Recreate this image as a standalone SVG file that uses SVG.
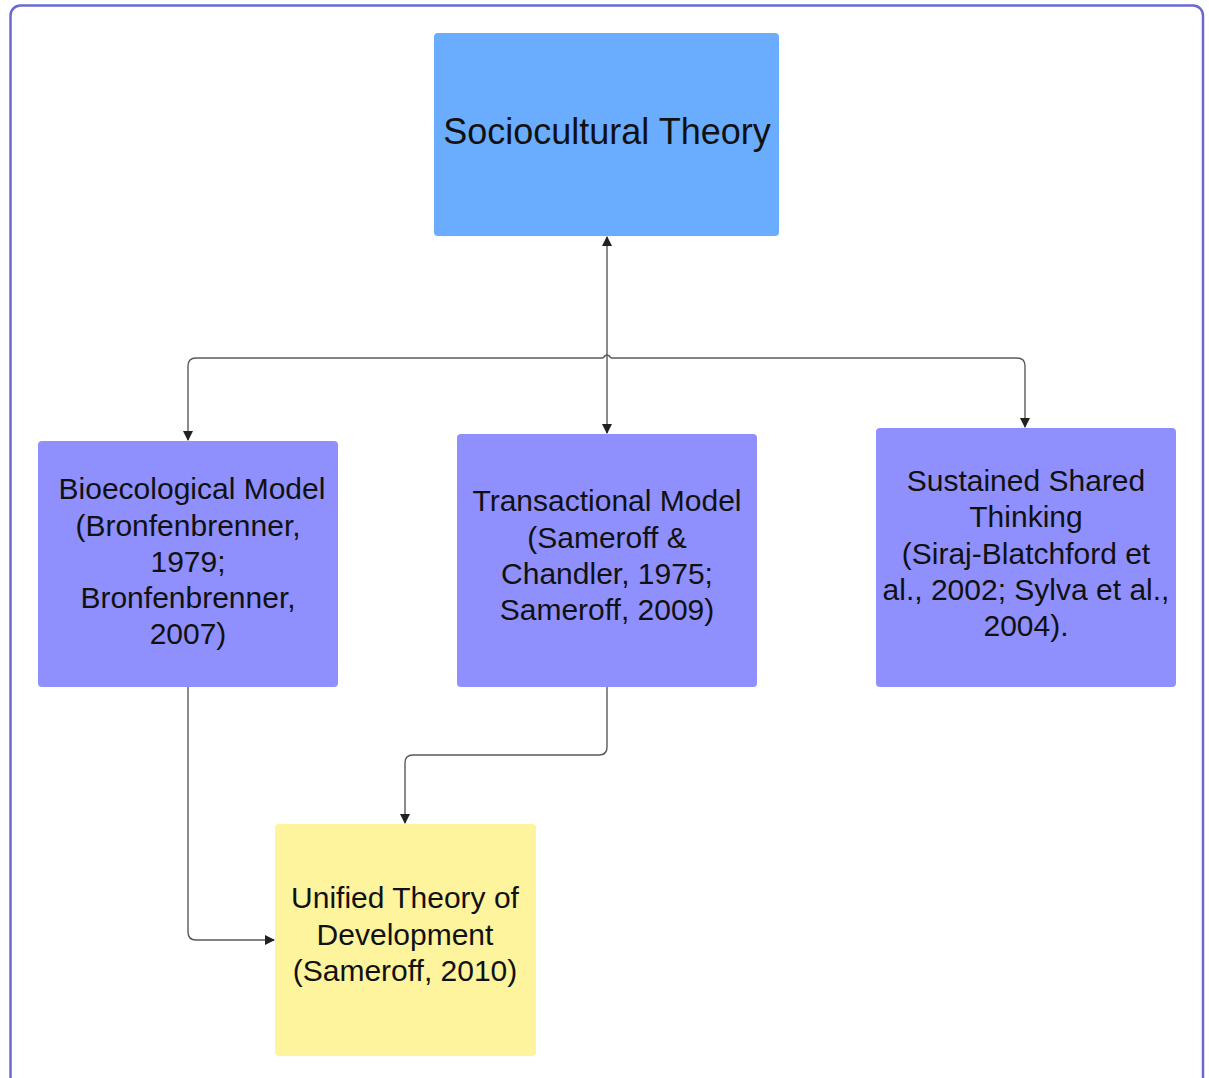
<svg xmlns="http://www.w3.org/2000/svg" width="1209" height="1078" viewBox="0 0 1209 1078">
<style>
.t{font-family:"Liberation Sans",Arial,sans-serif;fill:#111;text-anchor:middle}
.s{font-size:30px}
.c{fill:none;stroke:#5a5a5a;stroke-width:1.4}
</style>
<defs>
<marker id="ah" markerWidth="10" markerHeight="10" refX="9" refY="5" orient="auto" markerUnits="userSpaceOnUse">
<path d="M0,0 L10,5 L0,10 z" fill="#222"/>
</marker>
</defs>
<rect width="1209" height="1078" fill="#fff"/>
<rect x="10.5" y="5.5" width="1192.5" height="1090" rx="10" fill="none" stroke="#6a68d4" stroke-width="2.5"/>
<g id="connectors">
<path class="c" d="M607,358 L607,237" marker-end="url(#ah)"/>
<path class="c" d="M603,358 L196,358 Q188,358 188,366 L188,440" marker-end="url(#ah)"/>
<path class="c" d="M607,358 L607,433" marker-end="url(#ah)"/>
<path class="c" d="M611,358 L1017,358 Q1025,358 1025,366 L1025,427" marker-end="url(#ah)"/>
<path class="c" d="M603,358 Q607,352 611,358"/>
<path class="c" d="M607,687 L607,747 Q607,755 599,755 L413,755 Q405,755 405,763 L405,823" marker-end="url(#ah)"/>
<path class="c" d="M188,687 L188,932 Q188,940 196,940 L274,940" marker-end="url(#ah)"/>
</g>
<g id="sociocultural">
<rect x="434" y="33" width="345" height="203" rx="4" fill="#6aadff"/>
<text class="t" x="607" y="144" font-size="36">Sociocultural Theory</text>
</g>
<g id="bioecological">
<rect x="38" y="441" width="300" height="246" rx="4" fill="#8f8ffd"/>
<text class="t s"><tspan x="192" y="499">Bioecological Model</tspan><tspan x="188" y="536">(Bronfenbrenner,</tspan><tspan x="188" y="572">1979;</tspan><tspan x="188" y="608">Bronfenbrenner,</tspan><tspan x="188" y="644">2007)</tspan></text>
</g>
<g id="transactional">
<rect x="457" y="434" width="300" height="253" rx="4" fill="#8f8ffd"/>
<text class="t s"><tspan x="607" y="511">Transactional Model</tspan><tspan x="607" y="548">(Sameroff &amp;</tspan><tspan x="607" y="584">Chandler, 1975;</tspan><tspan x="607" y="620">Sameroff, 2009)</tspan></text>
</g>
<g id="sustained">
<rect x="876" y="428" width="300" height="259" rx="4" fill="#8f8ffd"/>
<text class="t s"><tspan x="1026" y="491">Sustained Shared</tspan><tspan x="1026" y="527">Thinking</tspan><tspan x="1026" y="564">(Siraj-Blatchford et</tspan><tspan x="1026" y="600">al., 2002; Sylva et al.,</tspan><tspan x="1026" y="636">2004).</tspan></text>
</g>
<g id="unified">
<rect x="275" y="824" width="261" height="232" rx="4" fill="#fdf49d"/>
<text class="t s"><tspan x="405" y="908">Unified Theory of</tspan><tspan x="405" y="945">Development</tspan><tspan x="405" y="981">(Sameroff, 2010)</tspan></text>
</g>
</svg>
